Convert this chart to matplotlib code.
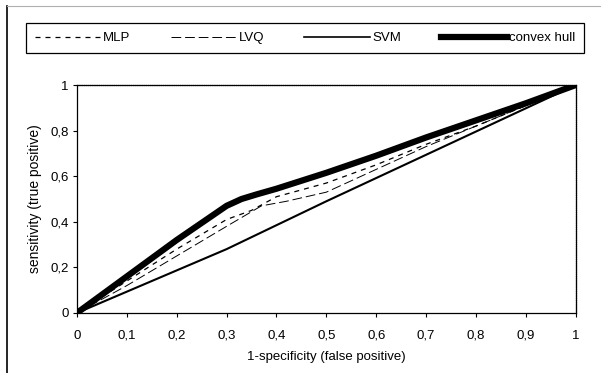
import matplotlib
matplotlib.use('Agg')
import matplotlib.pyplot as plt
from matplotlib.lines import Line2D

plt.rcParams['font.family'] = ['Liberation Sans', 'DejaVu Sans']

# ROC curves
mlp_x = [0, 0.1, 0.2, 0.3, 0.35, 0.4, 0.5, 0.6, 0.7, 0.8, 0.9, 1.0]
mlp_y = [0, 0.14, 0.28, 0.41, 0.45, 0.51, 0.57, 0.65, 0.74, 0.82, 0.91, 1.0]

lvq_x = [0, 0.1, 0.2, 0.3, 0.37, 0.42, 0.5, 0.6, 0.7, 0.8, 0.9, 1.0]
lvq_y = [0, 0.12, 0.25, 0.38, 0.47, 0.49, 0.53, 0.63, 0.73, 0.82, 0.91, 1.0]

svm_x = [0, 0.3, 0.5, 1.0]
svm_y = [0, 0.28, 0.49, 1.0]

hull_x = [0, 0.1, 0.2, 0.3, 0.33, 0.36, 0.4, 0.5, 0.6, 0.7, 0.8, 0.9, 1.0]
hull_y = [0, 0.16, 0.32, 0.47, 0.5, 0.52, 0.545, 0.615, 0.69, 0.77, 0.845, 0.92, 1.0]

xticks = [0, 0.1, 0.2, 0.3, 0.4, 0.5, 0.6, 0.7, 0.8, 0.9, 1.0]
yticks = [0, 0.2, 0.4, 0.6, 0.8, 1.0]

fig = plt.figure(figsize=(6.01, 3.73), dpi=100)
ax = fig.add_axes([0.128, 0.161, 0.83, 0.611])

ax.plot(svm_x, svm_y, color='black', lw=1.5, solid_capstyle='butt')
ax.plot(lvq_x, lvq_y, color='black', lw=0.7, dashes=(10, 4))
ax.plot(mlp_x, mlp_y, color='black', lw=0.9, dashes=(4, 4))
ax.plot(hull_x, hull_y, color='black', lw=4.5, solid_capstyle='round',
        solid_joinstyle='round')

ax.set_xlim(0, 1)
ax.set_ylim(0, 1)
ax.set_xticks(xticks)
ax.set_yticks(yticks)
fmt = lambda v: '0' if v == 0 else ('1' if v == 1 else ('%.1f' % v).replace('.', ','))
ax.set_xticklabels([fmt(v) for v in xticks])
ax.set_yticklabels([fmt(v) for v in yticks])
ax.tick_params(labelsize=9.5, length=3, width=0.8)
ax.tick_params(axis='x', pad=9)
ax.tick_params(axis='y', pad=3)
for s in ax.spines.values():
    s.set_linewidth(0.9)
ax.spines['top'].set_linestyle((0, (1, 0.5)))
ax.spines['right'].set_linestyle((0, (1, 0.5)))

ax.set_xlabel('1-specificity (false positive)', fontsize=9.5, labelpad=7)
ax.set_ylabel('sensitivity (true positive)', fontsize=10, labelpad=6)

handles = [
    Line2D([], [], color='black', lw=0.9, dashes=(4, 4)),
    Line2D([], [], color='black', lw=0.7, dashes=(10, 4)),
    Line2D([], [], color='black', lw=1.2),
    Line2D([], [], color='black', lw=4.5),
]
labels = ['MLP', 'LVQ', 'SVM', 'convex hull']
leg = fig.legend(handles, labels, loc='center', bbox_to_anchor=(0.508, 0.898),
                 ncol=4, fontsize=9.5, handlelength=5.0, handletextpad=0.15,
                 columnspacing=3.05, fancybox=False, edgecolor='black',
                 framealpha=1, borderpad=0.65, borderaxespad=0)
leg.get_frame().set_linewidth(0.9)

# chart area border (left dark, top light)
fig.add_artist(Line2D([0.012, 0.012], [0, 0.985], color='black', lw=1.2,
                      transform=fig.transFigure))
fig.add_artist(Line2D([0.012, 1.0], [0.985, 0.985], color='#b0b0b0', lw=0.8,
                      transform=fig.transFigure))

plt.savefig('out.png', dpi=100)
plt.close()
